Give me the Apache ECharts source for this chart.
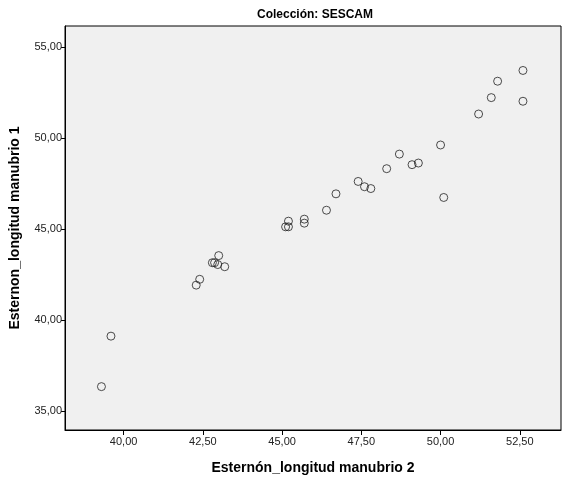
<!DOCTYPE html>
<html>
<head>
<meta charset="utf-8">
<script src="https://cdn.jsdelivr.net/npm/echarts@6/dist/echarts.min.js"></script>
<style>
  html, body { margin: 0; padding: 0; background: #ffffff; }
  #chart { width: 562px; height: 480px; }
</style>
</head>
<body>
<div id="chart"></div>
<script>
// Manubrium length, two measurements per specimen (SESCAM collection)
const manubrio2 = [39.3, 39.6, 43.0, 42.8, 42.87, 42.97, 43.19, 42.4, 42.29, 46.7,
                   46.4, 45.2, 45.11, 45.2, 45.7, 45.7, 50.0, 48.7, 49.1, 49.3,
                   48.3, 47.4, 47.6, 47.8, 50.1, 52.6, 51.8, 51.6, 51.2, 52.6];
const manubrio1 = [36.35, 39.12, 43.54, 43.15, 43.15, 43.05, 42.93, 42.24, 41.92, 46.93,
                   46.03, 45.43, 45.12, 45.12, 45.54, 45.32, 49.61, 49.11, 48.53, 48.62,
                   48.31, 47.61, 47.32, 47.22, 46.73, 53.70, 53.11, 52.21, 51.31, 52.01];
const xTicks = [40, 42.5, 45, 47.5, 50, 52.5];
const yTicks = [35, 40, 45, 50, 55];

const points = manubrio2.map((v, i) => [v, manubrio1[i]]);
const fmt = v => v.toFixed(2).replace('.', ',');
const font = 'Liberation Sans, Arial, sans-serif';

const chart = echarts.init(document.getElementById('chart'), null, { renderer: 'canvas' });
chart.setOption({
  animation: false,
  backgroundColor: '#ffffff',
  title: {
    text: 'Colección: SESCAM',
    left: 310, top: 4, textAlign: 'center',
    textStyle: { fontFamily: font, fontSize: 12, fontWeight: 'bold', color: '#000' }
  },
  grid: {
    left: 59, top: 26, right: 1, bottom: 44,
    show: true, backgroundColor: '#f0f0f0', borderColor: '#000', borderWidth: 1
  },
  xAxis: {
    type: 'value', min: 38.15, max: 53.8,
    name: 'Esternón_longitud manubrio 2',
    nameLocation: 'middle', nameGap: 31,
    nameTextStyle: { fontFamily: font, fontSize: 14, fontWeight: 'bold', color: '#000' },
    splitLine: { show: false },
    axisLine: { show: true, lineStyle: { color: '#000', width: 1 } },
    axisTick: { show: true, length: 5, customValues: xTicks, lineStyle: { color: '#000' } },
    axisLabel: { customValues: xTicks, formatter: fmt, margin: 6,
                 fontFamily: font, fontSize: 11, color: '#222' }
  },
  yAxis: {
    type: 'value', min: 33.97, max: 56.14,
    name: 'Esternon_longitud manubrio 1',
    nameLocation: 'middle', nameGap: 43, nameRotate: 90,
    nameTextStyle: { fontFamily: font, fontSize: 14, fontWeight: 'bold', color: '#000' },
    splitLine: { show: false },
    axisLine: { show: true, lineStyle: { color: '#000', width: 1 } },
    axisTick: { show: true, length: 4, customValues: yTicks, lineStyle: { color: '#000' } },
    axisLabel: { customValues: yTicks, formatter: fmt, margin: 3,
                 fontFamily: font, fontSize: 11, color: '#222' }
  },
  series: [{
    type: 'scatter',
    data: points,
    symbol: 'circle',
    symbolSize: 8,
    itemStyle: { color: 'rgba(0,0,0,0)', borderColor: '#222', borderWidth: 1 }
  }]
});
</script>
</body>
</html>
